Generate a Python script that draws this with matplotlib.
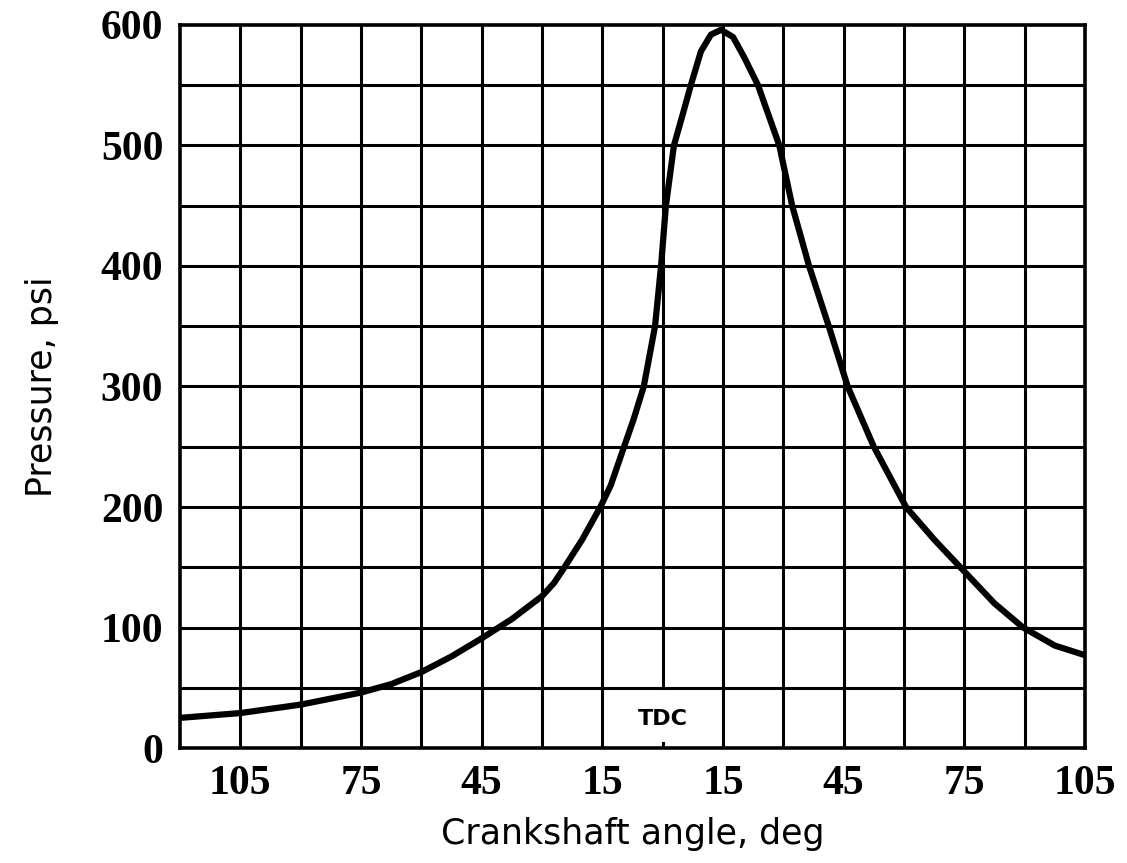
import matplotlib
matplotlib.use("Agg")
import matplotlib.pyplot as plt

# Crankshaft angle (deg, negative = before TDC) and cylinder pressure (psi)
angle = [-120, -105, -90, -75, -67.5, -60, -52.5, -45, -37.5, -30, -27, -24.6,
         -20, -15.5, -12.9, -9.6, -7.2, -4.7, -1.9, -0.4, 0.8, 2.8, 5.0, 7.0,
         9.5, 12.0, 14.5, 17.5, 20.3, 23.7, 29.0, 32.2, 36.4, 41.3, 46.0,
         52.5, 60.5, 67.5, 74.0, 82.5, 89.6, 97.5, 105.0]
pressure = [25, 29, 36, 46, 53, 63, 76, 91, 107, 126, 137, 149,
            173, 200, 218, 250, 273, 300, 350, 400, 450, 500, 526, 550,
            578, 592, 596, 590, 573, 550, 500, 450, 400, 350, 300,
            250, 200, 173, 150, 120, 100, 85, 77]

xtick_pos = [-105, -75, -45, -15, 15, 45, 75, 105]
xtick_lbl = ["105", "75", "45", "15", "15", "45", "75", "105"]
ytick_pos = [0, 100, 200, 300, 400, 500, 600]
vgrid = [-105, -90, -75, -60, -45, -30, -15, 15, 30, 45, 60, 75, 90]
hgrid = [50, 100, 150, 200, 250, 300, 350, 400, 450, 500, 550]

fig = plt.figure(figsize=(11.27, 8.63), dpi=100)
ax = fig.add_axes([180/1127, 1-748/863, (1085-180)/1127, (748-25)/863])
ax.set_xlim(-120, 105)
ax.set_ylim(0, 600)

for v in vgrid:
    ax.axvline(v, color="black", lw=2.2, zorder=1)
for h in hgrid:
    ax.axhline(h, color="black", lw=2.2, zorder=1)
# TDC line stops above the label cell
ax.plot([0, 0], [50, 600], color="black", lw=2.2, zorder=1)
ax.plot([0, 0], [0, 4], color="black", lw=2.2, zorder=1)

ax.plot(angle, pressure, color="black", lw=4.5, solid_joinstyle="round",
        solid_capstyle="butt", zorder=3)

ax.text(0, 24, "TDC", ha="center", va="center", fontsize=16,
        fontweight="bold", family="DejaVu Sans")

for s in ax.spines.values():
    s.set_linewidth(2.6)
    s.set_color("black")

ax.set_xticks(xtick_pos)
ax.set_xticklabels(xtick_lbl)
ax.set_yticks(ytick_pos)
ax.tick_params(length=0, pad=12)
for lbl in ax.get_xticklabels() + ax.get_yticklabels():
    lbl.set_fontfamily("Liberation Serif")
    lbl.set_fontweight("bold")
    lbl.set_fontsize(30)

ax.set_xlabel("Crankshaft angle, deg", fontsize=25, family="DejaVu Sans", labelpad=10)
ax.set_ylabel("Pressure, psi", fontsize=25, family="DejaVu Sans", labelpad=30)

fig.savefig("out.png", dpi=100)
